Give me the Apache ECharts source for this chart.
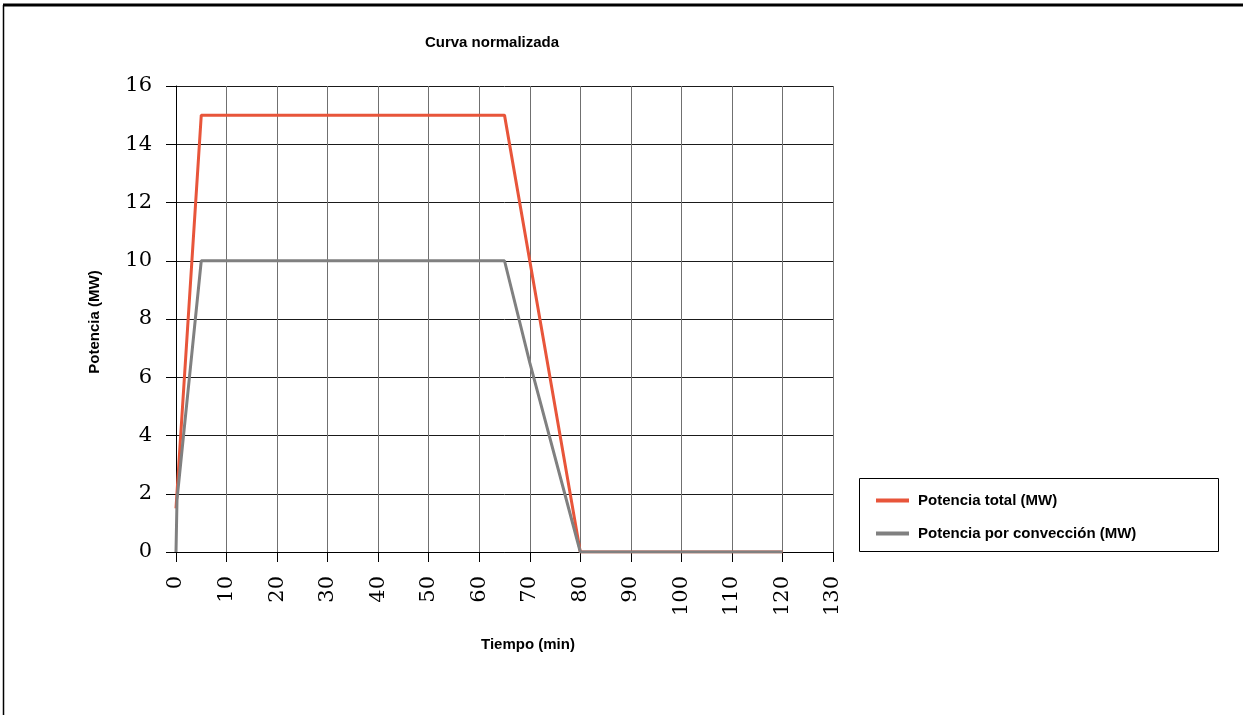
<!DOCTYPE html>
<html>
<head>
<meta charset="utf-8">
<script src="https://cdn.jsdelivr.net/npm/echarts@6/dist/echarts.min.js"></script>
<style>
html,body{margin:0;padding:0;background:#fff;}
#chart{width:1243px;height:715px;}
</style>
</head>
<body>
<div id="chart"></div>
<script>
const chartTitle = 'Curva normalizada';
const xAxisName = 'Tiempo (min)';
const yAxisName = 'Potencia (MW)';
const seriesNames = ['Potencia total (MW)', 'Potencia por convección (MW)'];
const tiempoTotal = [0, 5, 65, 80, 120];
const potenciaTotal = [1.5, 15, 15, 0, 0];
const tiempoConv = [0, 0.2, 5, 65, 70, 80, 120];
const potenciaConv = [0, 1.8, 10, 10, 6.5, 0, 0];

const pairs = (xs, ys) => xs.map((x, i) => [x, ys[i]]);
const sans = 'Liberation Sans, Arial, sans-serif';
const serif = 'DejaVu Serif, Liberation Serif, serif';

const chart = echarts.init(document.getElementById('chart'), null, {renderer: 'canvas'});
chart.setOption({
  animation: false,
  backgroundColor: '#fff',
  grid: {left: 176, top: 86, width: 657, height: 466, containLabel: false},
  xAxis: {
    type: 'value', min: 0, max: 130, interval: 10,
    axisLine: {show: true, onZero: false, lineStyle: {color: '#000', width: 1}},
    axisTick: {show: true, length: 10, lineStyle: {color: '#000'}},
    axisLabel: {rotate: 90, margin: 24, color: '#000', fontFamily: serif, fontSize: 21},
    splitLine: {show: true, lineStyle: {color: '#707070', width: 1}}
  },
  yAxis: {
    type: 'value', min: 0, max: 16, interval: 2,
    axisLine: {show: true, lineStyle: {color: '#000', width: 1}},
    axisTick: {show: true, length: 10, lineStyle: {color: '#000'}},
    axisLabel: {margin: 24, color: '#000', fontFamily: serif, fontSize: 21},
    splitLine: {show: true, lineStyle: {color: '#1a1a1a', width: 1}}
  },
  legend: {
    orient: 'vertical', left: 871, top: 488, itemGap: 18,
    itemWidth: 33, itemHeight: 4, icon: 'rect',
    textStyle: {fontFamily: sans, fontSize: 15, fontWeight: 'bold', color: '#000', padding: [0, 0, 0, 4]},
    data: seriesNames
  },
  series: [
    {name: seriesNames[0], type: 'line', data: pairs(tiempoTotal, potenciaTotal),
     showSymbol: false, color: '#E8553A', lineStyle: {width: 3, color: '#E8553A'}},
    {name: seriesNames[1], type: 'line', data: pairs(tiempoConv, potenciaConv),
     showSymbol: false, color: '#808080', lineStyle: {width: 3, color: '#808080'}}
  ],
  graphic: [
    {type: 'line', shape: {x1: 3, y1: 5, x2: 1243, y2: 5}, style: {stroke: '#000', lineWidth: 3}},
    {type: 'line', shape: {x1: 3.5, y1: 5, x2: 3.5, y2: 715}, style: {stroke: '#000', lineWidth: 1.5}},
    {type: 'rect', shape: {x: 859.5, y: 478.5, width: 359, height: 73}, style: {fill: 'none', stroke: '#000', lineWidth: 1}, z: -1},
    {type: 'text', x: 492, y: 43, style: {text: chartTitle, font: 'bold 15px ' + sans, fill: '#000', textAlign: 'center', textVerticalAlign: 'middle'}},
    {type: 'text', x: 528, y: 645, style: {text: xAxisName, font: 'bold 15px ' + sans, fill: '#000', textAlign: 'center', textVerticalAlign: 'middle'}},
    {type: 'text', x: 95, y: 322, rotation: Math.PI / 2, style: {text: yAxisName, font: 'bold 15px ' + sans, fill: '#000', textAlign: 'center', textVerticalAlign: 'middle'}}
  ]
});
</script>
</body>
</html>
